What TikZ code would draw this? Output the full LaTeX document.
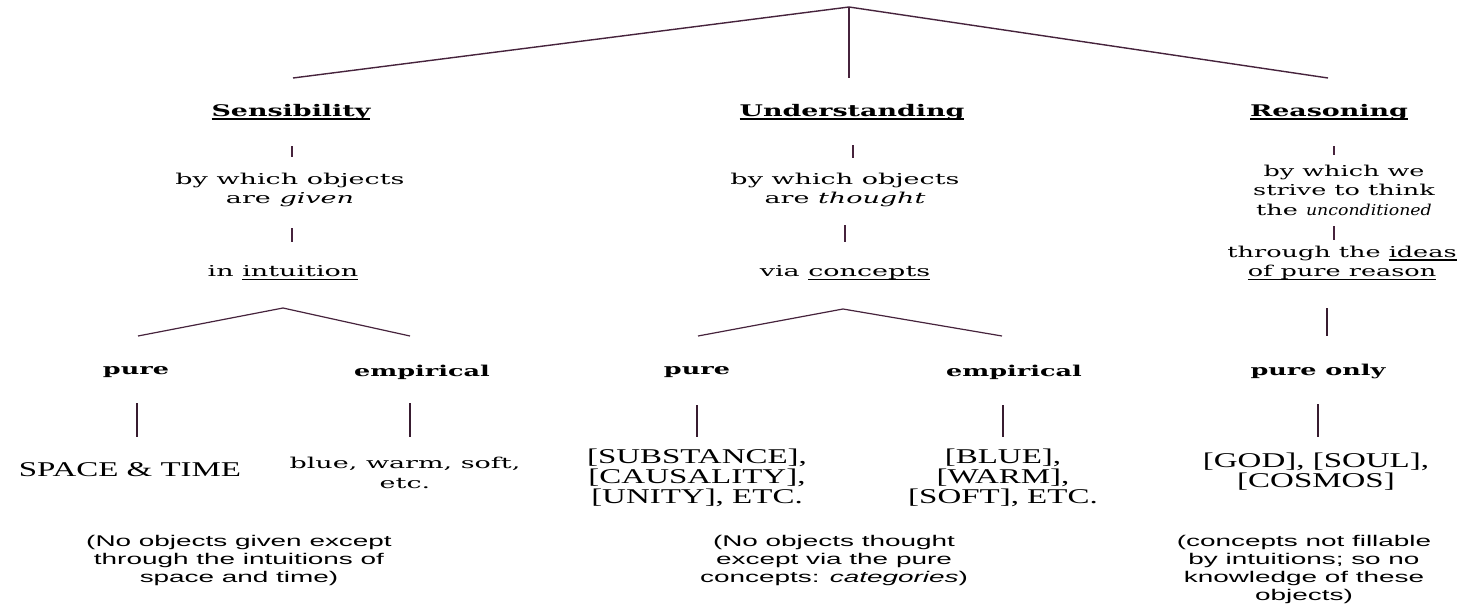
\documentclass[tikz,border=0pt]{standalone}
\usepackage{fontspec}
\usepackage{graphicx}
\newfontfamily\pxserif{DejaVu Serif}
\newfontfamily\trserif{Liberation Serif}
\newfontfamily\arsans{Liberation Sans}
\definecolor{lc}{RGB}{70,35,60}
\newcommand\ul[1]{\setbox0=\hbox{#1}\rlap{\rule[-3.2pt]{\wd0}{1.3pt}}\box0}
\newcommand\stxt[3]{\scalebox{#1}[1]{\vbox{#2\lineskiplimit=-100pt\lineskip=0pt\halign{\hfil##\hfil\cr#3\crcr}}}}
\newcommand\hfont{\pxserif\bfseries\fontsize{16}{19}\selectfont}
\newcommand\mfont{\pxserif\fontsize{15}{19.5}\selectfont}
\newcommand\sbfont{\pxserif\bfseries\fontsize{15}{19}\selectfont}
\newcommand\bfont{\trserif\fontsize{21}{20}\selectfont}
\newcommand\ffont{\arsans\fontsize{15.5}{18}\selectfont}
\newcommand\Head[1]{\stxt{1.68}{\hfont}{\ul{#1}}}
\newcommand\Mid[1]{\stxt{1.8}{\mfont}{#1}}
\newcommand\MidR[1]{\stxt{1.7}{\mfont}{#1}}
\newcommand\Sub[1]{\stxt{1.7}{\sbfont}{#1}}
\newcommand\Brk[1]{\stxt{1.57}{\bfont}{#1}}
\newcommand\Foot[1]{\stxt{1.8}{\ffont}{#1}}
\tikzset{
  lbl/.style={inner sep=0pt, outer sep=0pt, text=black},
  conn/.style={draw=lc, line width=1.4pt},
  tick/.style={draw=lc, line width=1.6pt},
  bar/.style={draw=lc!80!black, line width=2pt}
}
\begin{document}
\begin{tikzpicture}[x=1pt,y=-1pt]
\useasboundingbox[fill=white] (0,0) rectangle (1461,607);
% top level
\coordinate (apex) at (849,7);
\coordinate (tl) at (293,78);
\coordinate (tm) at (849,78);
\coordinate (tr) at (1328,78);
\draw[conn] (tl) -- (apex) -- (tr);
\draw[conn] (apex) -- (tm);
% headings
\node[lbl] (sens) at (291,112) {\Head{Sensibility}};
\node[lbl] (und) at (852,112) {\Head{Understanding}};
\node[lbl] (reas) at (1329,112) {\Head{Reasoning}};
% second texts
\node[lbl] (sgiven) at (290,190) {\Mid{by which objects\cr are \textit{given}}};
\node[lbl] (sintu) at (283,273) {\Mid{in \ul{intuition}}};
\node[lbl] (uthought) at (845,190) {\Mid{by which objects\cr are \textit{thought}}};
\node[lbl] (uconc) at (845,273) {\Mid{via \ul{concepts}}};
\node[lbl] (rwe) at (1344,190) {\MidR{by which we\cr strive to think\cr the \scalebox{0.68}[1]{\textit{unconditioned}}}};
\node[lbl] (rideas) at (1342,263) {\MidR{through the \ul{ideas}\cr \ul{of pure reason}}};
% ticks
\coordinate (t1a) at (292,146); \coordinate (t1b) at (292,157);
\coordinate (t2a) at (292,228); \coordinate (t2b) at (292,242);
\coordinate (t3a) at (853,145); \coordinate (t3b) at (853,158);
\coordinate (t4a) at (845,225); \coordinate (t4b) at (845,242);
\coordinate (t5a) at (1334,146); \coordinate (t5b) at (1334,155);
\coordinate (t6a) at (1334,226); \coordinate (t6b) at (1334,240);
\draw[tick] (t1a) -- (t1b);
\draw[tick] (t2a) -- (t2b);
\draw[tick] (t3a) -- (t3b);
\draw[tick] (t4a) -- (t4b);
\draw[tick] (t5a) -- (t5b);
\draw[tick] (t6a) -- (t6b);
% branches
\coordinate (sba) at (283,308); \coordinate (sbl) at (138,336); \coordinate (sbr) at (410,336);
\coordinate (uba) at (843,309); \coordinate (ubl) at (698,336); \coordinate (ubr) at (1002,336);
\coordinate (rba) at (1327,308); \coordinate (rbb) at (1327,336);
\draw[conn, line width=1.2pt] (sbl) -- (sba) -- (sbr);
\draw[conn, line width=1.2pt] (ubl) -- (uba) -- (ubr);
\draw[bar] (rba) -- (rbb);
% pure / empirical
\node[lbl] (spure) at (136,372) {\Sub{pure}};
\node[lbl] (semp) at (422,372) {\Sub{empirical}};
\node[lbl] (upure) at (697,372) {\Sub{pure}};
\node[lbl] (uemp) at (1014,372) {\Sub{empirical}};
\node[lbl] (ronly) at (1318,371) {\Sub{pure only}};
% bars
\coordinate (b1a) at (137,403); \coordinate (b1b) at (137,437);
\coordinate (b2a) at (410,403); \coordinate (b2b) at (410,437);
\coordinate (b3a) at (697,405); \coordinate (b3b) at (697,437);
\coordinate (b4a) at (1003,405); \coordinate (b4b) at (1003,437);
\coordinate (b5a) at (1318,404); \coordinate (b5b) at (1318,437);
\draw[bar] (b1a) -- (b1b);
\draw[bar] (b2a) -- (b2b);
\draw[bar] (b3a) -- (b3b);
\draw[bar] (b4a) -- (b4b);
\draw[bar] (b5a) -- (b5b);
% examples
\node[lbl] (sst) at (130,470) {\Brk{SPACE \& TIME}};
\node[lbl] (sbw) at (405,473) {\Mid{blue, warm, soft,\cr etc.}};
\node[lbl] (usub) at (697,478) {\Brk{[SUBSTANCE],\cr [CAUSALITY],\cr [UNITY], ETC.}};
\node[lbl] (ublue) at (1003,478) {\Brk{[BLUE],\cr [WARM],\cr [SOFT], ETC.}};
\node[lbl] (rgod) at (1316,472) {\Brk{[GOD], [SOUL],\cr [COSMOS]}};
% footnotes
\node[lbl] (fnl) at (239,560) {\Foot{(No objects given except\cr through the intuitions of\cr space and time)}};
\node[lbl] (fnm) at (834,560) {\Foot{(No objects thought\cr except via the pure\cr concepts: \textit{categories})}};
\node[lbl] (fnr) at (1304,569) {\Foot{(concepts not fillable\cr by intuitions; so no\cr knowledge of these\cr objects)}};
\end{tikzpicture}
\end{document}
